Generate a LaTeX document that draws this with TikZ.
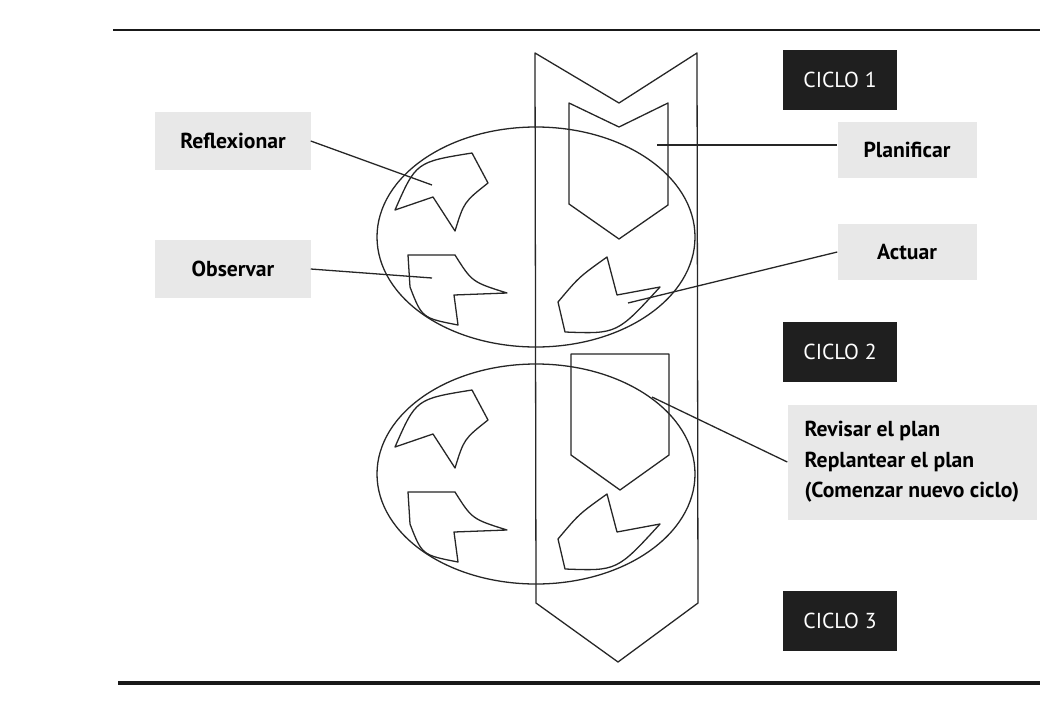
\documentclass[tikz,border=0pt]{standalone}
\usepackage{fontspec}
\setmainfont{PT Sans}
\begin{document}
\begin{tikzpicture}[x=0.03cm, y=-0.03cm,
    trazo/.style={line width=1.1pt, draw=black!85, line join=round},
    caja/.style={fill=black!9, inner sep=0pt, font=\bfseries\fontsize{18.5}{26}\selectfont},
    ciclo/.style={fill=black!88, text=white, minimum width=3.42cm, minimum height=1.8cm, inner sep=0pt, font=\fontsize{18.5}{20}\selectfont},
    regla/.style={line width=#1, draw=black!90}]

    \useasboundingbox[fill=white] (0,0) rectangle (1040,725);

    \draw[regla=2pt] (113,30) -- (1040,30);
    \draw[regla=3pt] (118,683) -- (1040,683);

    \draw[trazo] (535,53) -- (619,103) -- (697,53) -- (698,603) -- (618,662) -- (536,603) -- cycle;
    \draw[trazo] (569,103) -- (619,127) -- (668,103) -- (668,205) -- (619,239) -- (569,204) -- cycle;
    \draw[trazo] (571,354) -- (669,354) -- (669,455) -- (620,490) -- (571,455) -- cycle;

    \foreach \dy in {0,237}{
        \begin{scope}[shift={(0,\dy)}]
            \draw[trazo] (536,237) ellipse [x radius=159, y radius=110];
            \draw[trazo] (472,153) .. controls (416,162) .. (395,210) -- (433,197) -- (455,231) .. controls (464,202) .. (488,183) -- cycle;
            \draw[trazo] (408,255) -- (455,255) .. controls (472,282) .. (507,293) -- (454,295) -- (458,325) .. controls (422,318) .. (410,287) -- cycle;
            \draw[trazo] (607,257) -- (617,295) -- (660,287) .. controls (617,334) .. (565,332) -- (558,302) .. controls (579,277) .. cycle;
        \end{scope}
    }

    \coordinate (pR) at (432,185);
    \coordinate (pO) at (432,278);
    \coordinate (pP) at (657,145);
    \coordinate (pA) at (628,303);
    \coordinate (pV) at (652,397);

    \node[caja, minimum width=4.65cm, minimum height=1.74cm] (refl) at (233,141) {Reflexionar};
    \node[caja, minimum width=4.65cm, minimum height=1.74cm] (obs) at (233,269) {Observar};
    \node[caja, minimum width=4.17cm, minimum height=1.68cm] (plan) at (907,150) {Planificar};
    \node[caja, minimum width=4.17cm, minimum height=1.68cm] (act) at (907,252) {Actuar};
    \node[ciclo] (c1) at (840,80) {CICLO 1};
    \node[ciclo] (c2) at (840,352) {CICLO 2};
    \node[ciclo] (c3) at (840,621) {CICLO 3};
    \node[caja, minimum width=7.47cm, minimum height=3.45cm, align=left] (rev) at (912,462) {Revisar el plan\\Replantear el plan\\(Comenzar nuevo ciclo)};

    \draw[trazo] (refl.east) -- (pR);
    \draw[trazo] (obs.east) -- (pO);
    \draw[trazo] (pP) -- (pP -| plan.west);
    \draw[trazo] (pA) -- (act.west);
    \draw[trazo] (pV) -- (rev.west);
\end{tikzpicture}
\end{document}
